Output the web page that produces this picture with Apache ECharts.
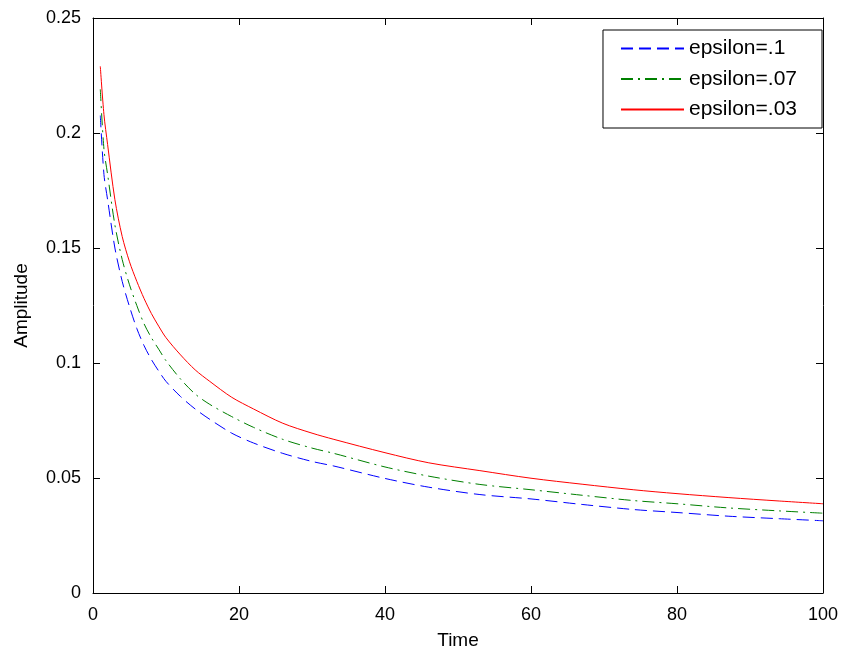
<!DOCTYPE html>
<html>
<head>
<meta charset="utf-8">
<script src="https://cdn.jsdelivr.net/npm/echarts@6/dist/echarts.min.js"></script>
<style>
html,body{margin:0;padding:0;background:#fff;}
#chart{width:843px;height:655px;}
</style>
</head>
<body>
<div id="chart"></div>
<script>
var time = [1,1.5,2,3,4,5,6,7,8,9,10,12,14,16,19,22,26,30,33,40,46,53,60,67,74,80,87,94,100];
var eps1 = [0.2076,0.182,0.171,0.150,0.1355,0.1245,0.1150,0.1075,0.1015,0.0965,0.092,0.0854,0.080,0.0755,0.0695,0.0652,0.0607,0.0572,0.0552,0.0498,0.046,0.0428,0.0409,0.0385,0.0363,0.0350,0.0334,0.0323,0.0314];
var eps07 = [0.219,0.193,0.182,0.160,0.145,0.134,0.125,0.117,0.111,0.106,0.101,0.093,0.0865,0.082,0.0767,0.072,0.0668,0.063,0.0607,0.0548,0.0508,0.0472,0.0449,0.0425,0.0402,0.0388,0.0370,0.0357,0.0347];
var eps03 = [0.229,0.208,0.195,0.171,0.155,0.144,0.1355,0.128,0.1215,0.116,0.111,0.1035,0.097,0.092,0.0851,0.080,0.0738,0.0695,0.0668,0.061,0.0566,0.0532,0.0499,0.0473,0.0449,0.0432,0.0415,0.0400,0.0388];
var seriesNames = ['epsilon=.1','epsilon=.07','epsilon=.03'];
var xTicks = {min:0, max:100, interval:20};
var yTicks = {min:0, max:0.25, interval:0.05};

function pairs(v){ return time.map(function(t,i){ return [t, v[i]]; }); }

var font = 'Liberation Sans, Arial, sans-serif';
function axisBase(extra){
  var o = {
    type:'value',
    axisLine:{show:true, onZero:false, lineStyle:{color:'#000', width:1}},
    axisTick:{show:true, inside:true, length:7, lineStyle:{color:'#000'}},
    splitLine:{show:false}
  };
  for (var k in extra) o[k] = extra[k];
  return o;
}

var chart = echarts.init(document.getElementById('chart'), null, {renderer:'canvas', width:843, height:655});
chart.setOption({
  backgroundColor:'#fff',
  animation:false,
  textStyle:{fontFamily:font},
  grid:{left:93, top:18, width:730, height:577, containLabel:false},
  legend:{
    orient:'vertical', right:21, top:30,
    data:seriesNames.map(function(n){ return {name:n, itemStyle:{opacity:0}}; }),
    itemWidth:63, itemHeight:18, itemGap:9.5, itemTextGap:7,
    padding:[8,25,8,17],
    backgroundColor:'#fff', borderColor:'#000', borderWidth:1,
    itemStyle:{opacity:0},
    textStyle:{fontSize:21, color:'#000', fontFamily:font}
  },
  xAxis:[
    axisBase({position:'bottom', min:xTicks.min, max:xTicks.max, interval:xTicks.interval,
      name:'Time', nameLocation:'middle', nameGap:38,
      nameTextStyle:{fontSize:19, color:'#000', fontFamily:font},
      axisLabel:{show:true, margin:13, fontSize:18, color:'#000', fontFamily:font}}),
    axisBase({position:'top', min:xTicks.min, max:xTicks.max, interval:xTicks.interval,
      axisLabel:{show:false}})
  ],
  yAxis:[
    axisBase({position:'left', min:yTicks.min, max:yTicks.max, interval:yTicks.interval,
      name:'Amplitude', nameLocation:'middle', nameGap:62, nameRotate:90,
      nameTextStyle:{fontSize:19, color:'#000', fontFamily:font},
      axisLabel:{show:true, margin:12, fontSize:18, color:'#000', fontFamily:font}}),
    axisBase({position:'right', min:yTicks.min, max:yTicks.max, interval:yTicks.interval,
      axisLabel:{show:false}})
  ],
  series:[
    {name:seriesNames[0], type:'line', data:pairs(eps1), showSymbol:false, symbol:'none', smooth:0.3,
      lineStyle:{color:'#0000ff', width:1, type:[12,6]}, itemStyle:{color:'#0000ff'}},
    {name:seriesNames[1], type:'line', data:pairs(eps07), showSymbol:false, symbol:'none', smooth:0.3,
      lineStyle:{color:'#008000', width:1, type:[12,5,2,5]}, itemStyle:{color:'#008000'}},
    {name:seriesNames[2], type:'line', data:pairs(eps03), showSymbol:false, symbol:'none', smooth:0.3,
      lineStyle:{color:'#ff0000', width:1, type:'solid'}, itemStyle:{color:'#ff0000'}}
  ]
});
</script>
</body>
</html>
